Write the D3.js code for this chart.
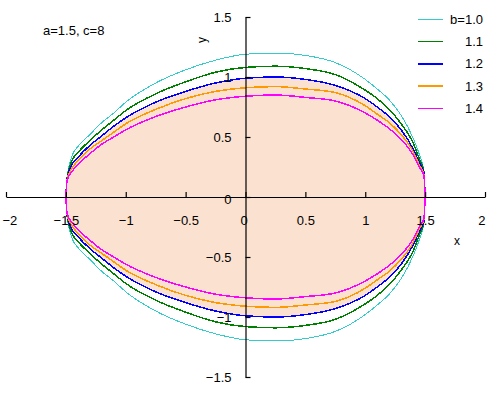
<!DOCTYPE html>
<html lang="en">
<head>
    <meta charset="UTF-8">
    <title>Egg curves a=1.5, c=8</title>
    <style>
        body {
            margin: 0;
            background: #fff;
        }
        svg text {
            font-family: "Liberation Sans", Arial, sans-serif;
            fill: #000;
        }
        .curve {
            fill: none;
            shape-rendering: crispEdges;
        }
    </style>
</head>
<body>
    <svg width="487" height="397"></svg>
    <script src="https://d3js.org/d3.v7.min.js"></script>
    <script>

// x positions sampled along the curves (upper half; the lower half is its mirror)
const xs = [-1.5, -1.49, -1.45, -1.4, -1.3, -1.2, -1.1, -1.0, -0.75, -0.5, -0.25, 0,
            0.25, 0.5, 0.75, 1.0, 1.1, 1.2, 1.3, 1.4, 1.45, 1.49, 1.5];

// half-heights, one array per b
const yB10 = [0, 0.16, 0.34, 0.42, 0.52, 0.62, 0.70, 0.79, 0.95, 1.06, 1.14, 1.19,
              1.20, 1.18, 1.12, 0.98, 0.90, 0.81, 0.68, 0.49, 0.36, 0.22, 0];
const yB11 = [0, 0.155, 0.30, 0.37, 0.47, 0.56, 0.64, 0.72, 0.86, 0.96, 1.04, 1.08,
              1.09, 1.07, 1.02, 0.89, 0.82, 0.73, 0.61, 0.45, 0.32, 0.21, 0];
const yB12 = [0, 0.15, 0.27, 0.33, 0.43, 0.51, 0.59, 0.66, 0.79, 0.88, 0.95, 0.99,
              1.00, 0.98, 0.93, 0.82, 0.75, 0.67, 0.56, 0.40, 0.29, 0.20, 0];
const yB13 = [0, 0.145, 0.24, 0.30, 0.40, 0.47, 0.54, 0.61, 0.73, 0.82, 0.88, 0.91,
              0.92, 0.90, 0.87, 0.76, 0.69, 0.62, 0.52, 0.38, 0.27, 0.19, 0];
const yB14 = [0, 0.14, 0.21, 0.27, 0.36, 0.44, 0.50, 0.56, 0.67, 0.75, 0.81, 0.84,
              0.85, 0.83, 0.80, 0.70, 0.64, 0.57, 0.48, 0.35, 0.25, 0.18, 0];

const seriesNames = ["b=1.0", "1.1", "1.2", "1.3", "1.4"];
const seriesValues = [yB10, yB11, yB12, yB13, yB14];
const seriesColors = ["#33cccc", "#008000", "#0000ff", "#ff9900", "#ff00ff"];
const seriesWidths = [1, 1.5, 1.5, 1.5, 1.5];
const filledIndex = 2; // the b=1.2 curve is shaded

const xTicks = [-2, -1.5, -1, -0.5, 0, 0.5, 1, 1.5, 2];
const yTicks = [-1.5, -1, -0.5, 0, 0.5, 1, 1.5];

const svg = d3.select("svg");

svg.append("rect")
    .attr("width", 487)
    .attr("height", 397)
    .attr("fill", "#fff");

const x = d3.scaleLinear().domain([-2, 2]).range([6, 485]);
const y = d3.scaleLinear().domain([-1.5, 1.5]).range([377, 17]);

const points = vals => xs.map((v, i) => [v, vals[i]]);
const fmt = d => String(d).replace("-", "\u2212");

// shaded region
const area = d3.area()
    .x(d => x(d[0]))
    .y0(d => y(-d[1]))
    .y1(d => y(d[1]))
    .curve(d3.curveMonotoneX);

svg.append("path")
    .attr("d", area(points(seriesValues[filledIndex])))
    .attr("fill", "#fbe2d0");

// curves, upper and lower halves
const upper = d3.line().x(d => x(d[0])).y(d => y(d[1])).curve(d3.curveMonotoneX);
const lower = d3.line().x(d => x(d[0])).y(d => y(-d[1])).curve(d3.curveMonotoneX);

seriesValues.forEach((vals, i) => {
    const pts = points(vals);
    [upper, lower].forEach(gen => {
        svg.append("path")
            .attr("class", "curve")
            .attr("d", gen(pts))
            .attr("stroke", seriesColors[i])
            .attr("stroke-width", seriesWidths[i]);
    });
});

// axes
const xAxis = svg.append("g")
    .attr("transform", `translate(0,${y(0)})`)
    .call(d3.axisBottom(x).tickValues(xTicks).tickFormat(fmt)
        .tickSizeInner(-5).tickSizeOuter(0).tickPadding(19));

const yAxis = svg.append("g")
    .attr("transform", `translate(${x(0)},0)`)
    .call(d3.axisLeft(y).tickValues(yTicks).tickFormat(fmt)
        .tickSizeInner(-5).tickSizeOuter(0).tickPadding(14));

[xAxis, yAxis].forEach(g => {
    g.selectAll("path, line").attr("stroke", "#000").attr("stroke-width", 1.2);
    g.selectAll("text")
        .attr("font-size", 13)
        .attr("font-family", "'Liberation Sans', Arial, sans-serif")
        .attr("fill", "#000");
});

// end labels of the x axis are pulled inside the picture
xAxis.selectAll(".tick text")
    .filter(d => d === -2)
    .attr("text-anchor", "start")
    .attr("x", -4);
xAxis.selectAll(".tick text")
    .filter(d => d === 2)
    .attr("text-anchor", "end")
    .attr("x", 0);
// x label of 0 sits just left of the y axis line
xAxis.selectAll(".tick text")
    .filter(d => d === 0)
    .attr("x", -2);
yAxis.selectAll(".tick text")
    .filter(d => d === 0)
    .attr("dy", "0.5em");

// axis titles
svg.append("text")
    .attr("x", 457)
    .attr("y", 245)
    .attr("text-anchor", "middle")
    .attr("font-size", 12)
    .text("x");

svg.append("text")
    .attr("transform", "translate(206,40) rotate(-90)")
    .attr("text-anchor", "middle")
    .attr("font-size", 12)
    .text("y");

// parameters note
svg.append("text")
    .attr("x", 43)
    .attr("y", 35)
    .attr("font-size", 13)
    .text("a=1.5, c=8");

// legend
const legend = svg.append("g");
seriesNames.forEach((name, i) => {
    const ly = 19.5 + i * 22.2;
    legend.append("line")
        .attr("x1", 418).attr("x2", 443)
        .attr("y1", ly).attr("y2", ly)
        .attr("stroke", seriesColors[i])
        .attr("stroke-width", seriesWidths[i])
        .style("shape-rendering", "crispEdges");
    legend.append("text")
        .attr("x", 483)
        .attr("y", ly)
        .attr("dy", "0.35em")
        .attr("text-anchor", "end")
        .attr("font-size", 13)
        .text(name);
});
    </script>
</body>
</html>
